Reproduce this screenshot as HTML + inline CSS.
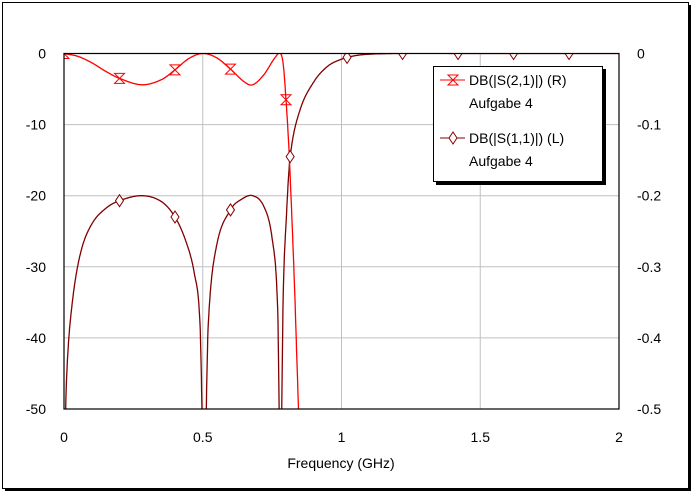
<!DOCTYPE html>
<html><head><meta charset="utf-8"><style>
body{margin:0;background:#fff;}
svg{display:block;font-family:"Liberation Sans",sans-serif;}
</style></head><body>
<svg id="chart" width="697" height="496">
<rect x="5" y="5" width="686" height="486" fill="#000"/>
<rect x="2.5" y="2.5" width="686" height="486" fill="#fff" stroke="#000" stroke-width="1"/>
<defs><clipPath id="pc"><rect x="64" y="53" width="555" height="356"/></clipPath></defs>
<g id="grid"></g>
<g id="ticks"></g>
<g id="series" clip-path="url(#pc)"></g>
<rect x="64" y="53.5" width="555" height="355.5" fill="none" stroke="#000" stroke-width="1.2"/>
<text x="341" y="468" text-anchor="middle" font-size="14">Frequency (GHz)</text>
<g>
<rect x="436" y="69" width="170" height="116" fill="#000"/>
<rect x="433.5" y="66.5" width="169" height="115" fill="#fff" stroke="#000"/>
<g>
<line x1="440" y1="80" x2="465" y2="80" stroke="#f00"/>
<path d="M448,75 L458,75 L448,85 L458,85 Z" fill="none" stroke="#f00"/>
<text x="469" y="85" font-size="14">DB(|S(2,1)|) (R)</text>
<text x="469" y="108" font-size="14">Aufgabe 4</text>
</g>
<g>
<line x1="440" y1="138" x2="465" y2="138" stroke="#800000"/>
<path d="M453,132 L457,138 L453,144 L449,138 Z" fill="#fff" stroke="#800000"/>
<text x="469" y="143" font-size="14">DB(|S(1,1)|) (L)</text>
<text x="469" y="166" font-size="14">Aufgabe 4</text>
</g>
</g>
</svg>
<script>
const xTicks=[0,0.5,1,1.5,2];
const yTicksL=[0,-10,-20,-30,-40,-50];
const yTicksR=[0,-0.1,-0.2,-0.3,-0.4,-0.5];
const s11F=[0,0.01,0.03,0.06,0.1,0.15,0.2,0.28,0.35,0.4,0.44,0.47,0.49,0.505,0.52,0.55,0.6,0.64,0.68,0.72,0.75,0.77,0.78,0.79,0.8,0.815,0.85,0.9,0.95,1.0,1.05,1.1,1.2,1.5,2.0];
const s11V=[-60,-45,-35,-28,-24,-21.8,-20.7,-20,-20.8,-23,-26.5,-31,-38,-60,-38,-27,-22,-20.5,-20,-21.5,-26,-36,-60,-34,-24,-14.5,-8,-4,-1.8,-0.8,-0.3,-0.1,0,0,0];
const s21F=[0,0.05,0.1,0.15,0.2,0.28,0.35,0.4,0.45,0.5,0.55,0.6,0.65,0.68,0.72,0.76,0.78,0.79,0.8,0.81,0.82,0.83,0.84,0.85];
const s21V=[0,-0.004,-0.013,-0.025,-0.035,-0.044,-0.037,-0.023,-0.007,0,-0.006,-0.022,-0.04,-0.044,-0.03,-0.006,0,-0.015,-0.065,-0.13,-0.22,-0.32,-0.44,-0.56];
const s11MarkF=[0.2,0.4,0.6,0.815,1.02,1.22,1.42,1.62,1.82];
const s21MarkF=[0,0.2,0.4,0.6,0.8];
const NS="http://www.w3.org/2000/svg";
const X=f=>64+f/2*555, YL=v=>53.5+(-v/50)*355.5, YR=v=>53.5+(-v/0.5)*355.5;
function mk(t,a,p){const e=document.createElementNS(NS,t);for(const k in a)e.setAttribute(k,a[k]);p.appendChild(e);return e;}
function tan(F,V,i){if(i<=0)return (V[1]-V[0])/(F[1]-F[0]);const n=F.length-1;if(i>=n)return (V[n]-V[n-1])/(F[n]-F[n-1]);return (V[i+1]-V[i-1])/(F[i+1]-F[i-1]);}
function interp(F,V,f){for(let i=0;i<F.length-1;i++){if(f>=F[i]&&f<=F[i+1]){const h=F[i+1]-F[i],t=(f-F[i])/h,t2=t*t,t3=t2*t;
return (2*t3-3*t2+1)*V[i]+(t3-2*t2+t)*h*tan(F,V,i)+(-2*t3+3*t2)*V[i+1]+(t3-t2)*h*tan(F,V,i+1);}}return V[V.length-1];}
const g=document.getElementById('grid'),tk=document.getElementById('ticks'),s=document.getElementById('series');
xTicks.forEach(t=>{const l=mk('line',{x1:X(t),x2:X(t),y1:53,y2:409,stroke:'#c0c0c0'},g);


const tx=mk('text',{x:X(t),y:442,'text-anchor':'middle','font-size':14},tk);tx.textContent=t;

});
yTicksL.forEach(t=>{const l=mk('line',{x1:64,x2:619,y1:YL(t),y2:YL(t),stroke:'#c0c0c0'},g);


const tx=mk('text',{x:46,y:YL(t)+5,'text-anchor':'end','font-size':14},tk);tx.textContent=t;

});
yTicksR.forEach(t=>{const tx=mk('text',{x:637,y:YR(t)+5,'font-size':14},tk);tx.textContent=t;

});
function curve(F,V,Y){let pts=[];for(let f=F[0];f<=F[F.length-1]+1e-9;f+=0.001)pts.push(X(f).toFixed(1)+','+Y(interp(F,V,f)).toFixed(1));return pts.join(' ');}
const p1=mk('polyline',{points:curve(s11F,s11V,YL),fill:'none',stroke:'#800000','stroke-width':1.3},s);


const p2=mk('polyline',{points:curve(s21F,s21V,YR),fill:'none',stroke:'#f00','stroke-width':1.3},s);


s11MarkF.forEach(f=>{const x=X(f),y=YL(interp(s11F,s11V,f));const m=mk('path',{d:`M${x},${y-6} L${x+4},${y} L${x},${y+6} L${x-4},${y} Z`,fill:'#fff',stroke:'#800000'},s);

});
s21MarkF.forEach(f=>{const x=X(f),y=YR(interp(s21F,s21V,f));const m=mk('path',{d:`M${x-5},${y-5} L${x+5},${y-5} L${x-5},${y+5} L${x+5},${y+5} Z`,fill:'none',stroke:'#f00'},s);

});
</script>
</body></html>
